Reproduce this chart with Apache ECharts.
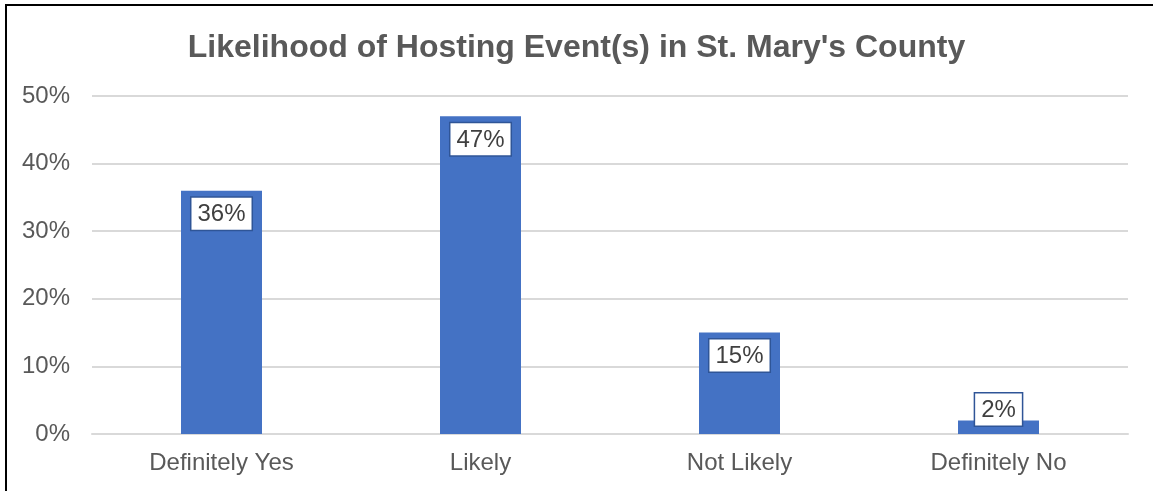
<!DOCTYPE html>
<html>
<head>
<meta charset="utf-8">
<script src="https://cdn.jsdelivr.net/npm/echarts@6/dist/echarts.min.js"></script>
<style>
  html, body { margin: 0; padding: 0; background: #fff; overflow: hidden; }
  #frame { position: absolute; left: 5px; top: 4px; width: 1200px; height: 600px;
           border-left: 2px solid #000; border-top: 2px solid #000; }
  #chart-container { position: absolute; left: 0; top: 0; width: 1153px; height: 491px; }
</style>
</head>
<body>
<div id="frame"></div>
<div id="chart-container"></div>
<script>
var myChart = echarts.init(document.getElementById('chart-container'));

const categories = ['Definitely Yes', 'Likely', 'Not Likely', 'Definitely No'];
const values = [36, 47, 15, 2];
const yTicks = [0, 10, 20, 30, 40, 50];

const FONT = '"Liberation Sans", Arial, sans-serif';

// small bars can't hold the label inside, push it above like Excel does
const barData = values.map(v => {
    if (v < 5) {
        return { value: v, label: { position: 'top', distance: -5 } };
    }
    return v;
});

const option = {
    animation: false,
    title: {
        text: "Likelihood of Hosting Event(s) in St. Mary's County",
        left: 'center',
        top: 27,
        textStyle: { fontFamily: FONT, fontSize: 32, fontWeight: 'bold', color: '#595959' }
    },
    grid: { left: 92, right: 25, top: 96, bottom: 57 },
    xAxis: {
        type: 'category',
        data: categories,
        axisLine: { lineStyle: { color: '#d9d9d9', width: 2 } },
        axisTick: { show: false },
        axisLabel: { fontFamily: FONT, fontSize: 24, color: '#595959', margin: 17 }
    },
    yAxis: {
        type: 'value',
        min: yTicks[0],
        max: yTicks[yTicks.length - 1],
        interval: 10,
        axisLine: { show: false },
        axisTick: { show: false },
        splitLine: { lineStyle: { color: '#d9d9d9', width: 2 } },
        axisLabel: { fontFamily: FONT, fontSize: 24, color: '#595959', margin: 22,
                     formatter: v => v + '%' }
    },
    series: [{
        type: 'bar',
        data: barData,
        barWidth: 81,
        itemStyle: { color: '#4472C4' },
        label: {
            show: true,
            position: 'insideTop',
            distance: 7,
            formatter: p => p.value + '%',
            fontFamily: FONT,
            fontSize: 24,
            color: '#404040',
            backgroundColor: '#fff',
            borderColor: '#2F5597',
            borderWidth: 1.5,
            padding: [5, 6, 3, 6]
        }
    }]
};

myChart.setOption(option);

window.addEventListener('resize', function() {
    myChart.resize();
});
</script>
</body>
</html>
